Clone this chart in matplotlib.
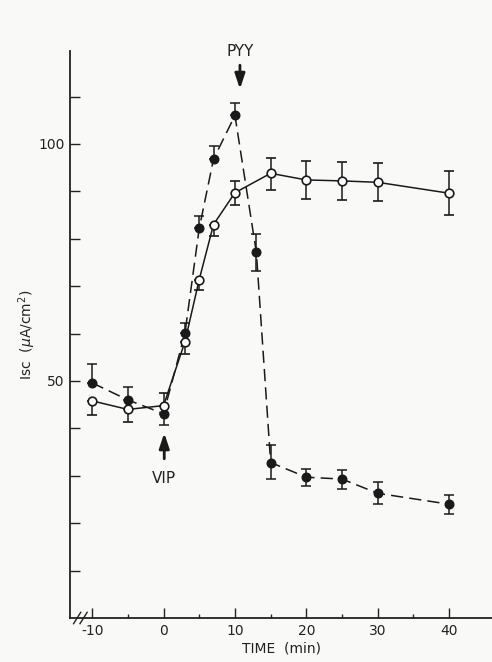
import matplotlib.pyplot as plt
from matplotlib.ticker import FixedLocator

# Isc time course: VIP at t=0, PYY at t=10 (filled), control without PYY (open)
time_pyy = [-10, -5, 0, 3, 5, 7, 10, 13, 15, 20, 25, 30, 40]
isc_pyy = [49.6, 46.0, 43.1, 60.1, 82.2, 96.8, 106.0, 77.1, 32.8, 29.7, 29.3, 26.3, 24.0]
err_pyy_up = [4.0, 2.8, 0.0, 2.2, 2.5, 2.8, 2.7, 3.9, 3.6, 1.8, 2.0, 2.3, 2.0]
err_pyy_dn = [0.0, 0.0, 2.3, 0.0, 0.0, 0.0, 0.0, 3.9, 3.4, 1.8, 2.0, 2.3, 2.0]

time_ctl = [-10, -5, 0, 3, 5, 7, 10, 15, 20, 25, 30, 40]
isc_ctl = [45.8, 44.0, 44.8, 58.3, 71.4, 83.0, 89.7, 93.8, 92.4, 92.2, 91.9, 89.6]
err_ctl_up = [0.0, 0.0, 2.6, 0.0, 0.0, 0.0, 2.5, 3.3, 4.0, 4.0, 4.1, 4.6]
err_ctl_dn = [3.0, 2.6, 0.0, 2.6, 2.3, 2.4, 2.5, 3.5, 4.0, 4.0, 4.0, 4.6]

x_major = [-10, 0, 10, 20, 30, 40]
x_minor = [-5, 5, 15, 25, 35]
y_ticks = [10, 20, 30, 40, 50, 60, 70, 80, 90, 100, 110]
y_labels = ["", "", "", "", "50", "", "", "", "", "100", ""]

plt.rcParams["font.family"] = ["DejaVu Sans"]
bg = "#f9f9f8"
fig = plt.figure(figsize=(4.92, 6.62), dpi=100, facecolor=bg)
ax = fig.add_axes([70 / 492, 44 / 662, 422 / 492, 567 / 662], facecolor=bg)

ax.errorbar(time_pyy, isc_pyy, yerr=[err_pyy_dn, err_pyy_up], fmt="o", color="#1a1a1a",
            ms=6.2, mfc="#1a1a1a", mec="#1a1a1a", elinewidth=1.1, capsize=3.5,
            capthick=1.1, ls=(0, (8, 4)), lw=1.1, zorder=3)
ax.errorbar(time_ctl, isc_ctl, yerr=[err_ctl_dn, err_ctl_up], fmt="o", color="#1a1a1a",
            ms=6.2, mfc="white", mec="#1a1a1a", mew=1.2, elinewidth=1.1, capsize=3.5,
            capthick=1.1, ls="-", lw=1.1, zorder=4)

ax.set_xlim(-13.1, 46.0)
ax.set_ylim(0, 119.6)

for s in ["top", "right"]:
    ax.spines[s].set_visible(False)
for s in ["left", "bottom"]:
    ax.spines[s].set_linewidth(1.3)
    ax.spines[s].set_color("#222222")

ax.xaxis.set_major_locator(FixedLocator(x_major))
ax.xaxis.set_minor_locator(FixedLocator(x_minor))
ax.set_xticklabels([str(v) for v in x_major])
ax.set_yticks(y_ticks)
ax.set_yticklabels(y_labels)
ax.tick_params(axis="both", which="major", direction="in", length=7, width=1.0,
               labelsize=10, colors="#222222", pad=4)
ax.tick_params(axis="x", which="minor", direction="in", length=3, width=1.0, colors="#222222")

# axis break on x axis
for dx in [0.0, 0.9]:
    ax.plot([-12.6 + dx, -11.6 + dx], [-1.2, 1.2], color="#222222", lw=1.0,
            clip_on=False, zorder=5)

# stimulus arrows
ax.annotate("", xy=(10.7, 111.0), xytext=(10.7, 117.2),
            arrowprops=dict(arrowstyle="-|>,head_length=0.9,head_width=0.3",
                            color="#1a1a1a", lw=2.0))
ax.text(10.7, 119.6, "PYY", ha="center", va="center", fontsize=11, color="#222222")
ax.annotate("", xy=(0.1, 39.6), xytext=(0.1, 33.0),
            arrowprops=dict(arrowstyle="-|>,head_length=0.9,head_width=0.3",
                            color="#1a1a1a", lw=2.0))
ax.text(0.1, 29.5, "VIP", ha="center", va="center", fontsize=11, color="#222222")

ax.set_xlabel("TIME  (min)", fontsize=10, color="#222222", labelpad=3)
ax.set_ylabel("Isc  ($\\mu$A/cm$^2$)", fontsize=10, color="#222222", labelpad=0)

fig.savefig("out.png", dpi=100, facecolor=bg)
